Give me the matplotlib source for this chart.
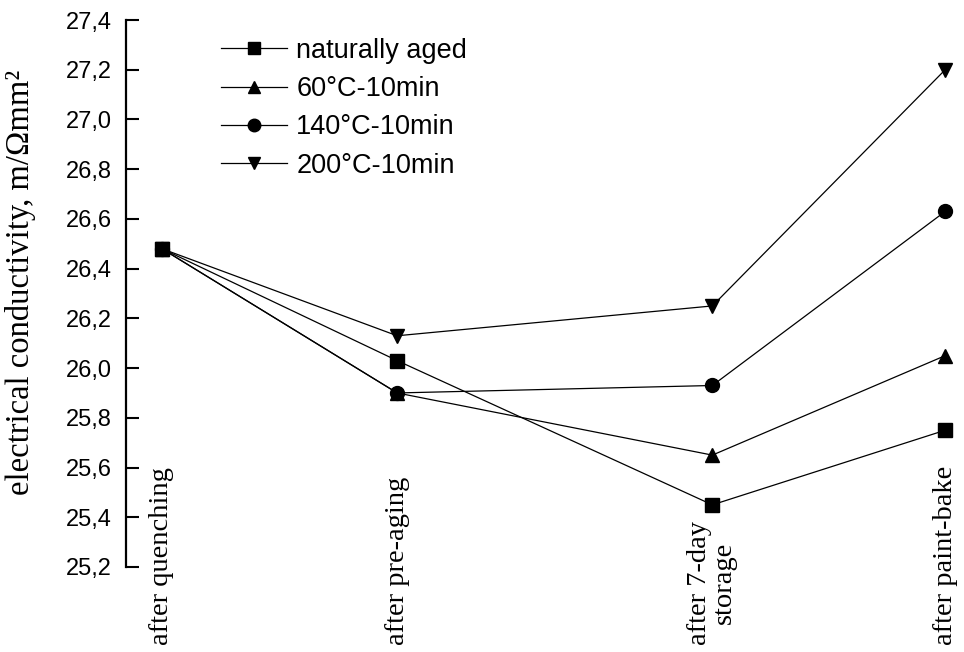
import matplotlib
matplotlib.use("Agg")
import matplotlib.pyplot as plt
from matplotlib.transforms import blended_transform_factory
from matplotlib.ticker import FuncFormatter

# stages along the process (unequal spacing as in the original figure)
stages = ["after quenching", "after pre-aging", "after 7-day\nstorage", "after paint-bake"]
stage_x = [0.0, 1.0, 2.34, 3.33]

series_names = ["naturally aged", "60\u00b0C-10min", "140\u00b0C-10min", "200\u00b0C-10min"]
natural = [26.48, 26.03, 25.45, 25.75]
pre60 = [26.48, 25.90, 25.65, 26.05]
pre140 = [26.48, 25.90, 25.93, 26.63]
pre200 = [26.48, 26.13, 26.25, 27.20]
markers = ["s", "^", "o", "v"]

yticks = [25.2, 25.4, 25.6, 25.8, 26.0, 26.2, 26.4, 26.6, 26.8, 27.0, 27.2, 27.4]

fig = plt.figure(figsize=(9.64, 6.52), dpi=100)
ax = fig.add_axes([126/964, 1-567/652, 1-126/964, 547/652])

for vals, name, m in zip([natural, pre60, pre140, pre200], series_names, markers):
    ax.plot(stage_x, vals, color="black", lw=0.9, marker=m, ms=10,
            mfc="black", mec="black", label=name, clip_on=False)

ax.set_ylim(25.2, 27.4)
ax.set_xlim(-0.153, 3.41)
ax.set_yticks(yticks)
ax.yaxis.set_major_formatter(FuncFormatter(lambda v, p: ("%.1f" % v).replace(".", ",")))
ax.tick_params(axis="y", direction="in", length=9, width=1.5, pad=10,
               labelsize=17, labelfontfamily="Liberation Sans")
ax.set_xticks([])
for s in ["top", "right", "bottom"]:
    ax.spines[s].set_visible(False)
ax.spines["left"].set_linewidth(1.6)

trans = blended_transform_factory(ax.transData, fig.transFigure)
for x, lab in zip(stage_x, stages):
    ax.text(x, 1-645/652, lab, rotation=90, ha="center", va="bottom",
            multialignment="center", fontsize=20.5, family="Liberation Serif",
            transform=trans, clip_on=False, linespacing=1.0)

fig.text(21/964, 1-282/652, "electrical conductivity, m/\u03a9mm\u00b2", rotation=90,
         ha="center", va="center", fontsize=23.5, family="Liberation Serif")

leg = ax.legend(loc="upper left", bbox_to_anchor=(207/964, 1-24/652),
                bbox_transform=fig.transFigure, frameon=False,
                prop={"family": "Liberation Sans", "size": 19.5},
                handlelength=2.45, handletextpad=0.35, labelspacing=0.46,
                markerscale=0.9, borderpad=0)

fig.savefig("out.png", dpi=100)
